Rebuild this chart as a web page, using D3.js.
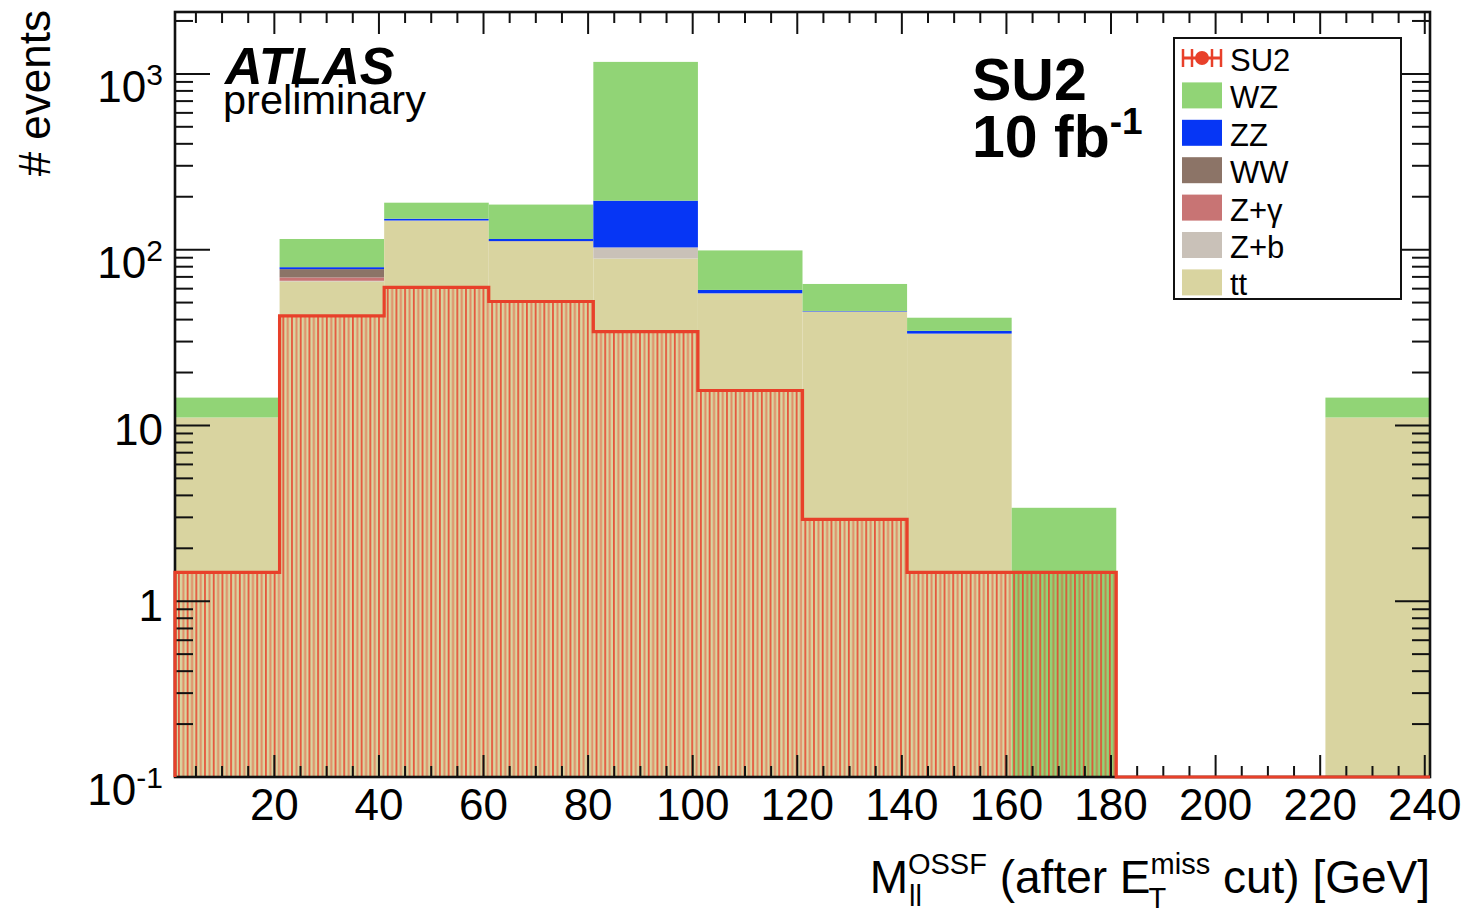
<!DOCTYPE html>
<html>
<head>
<meta charset="utf-8">
<script src="https://cdn.jsdelivr.net/npm/d3@7"></script>
<style>
  body { margin: 0; background: #fff; }
  text { font-family: "Liberation Sans", Arial, Helvetica, sans-serif; fill: #000; }
</style>
</head>
<body>
<svg id="chart" width="1465" height="919"></svg>
<script>
// ── Data ──────────────────────────────────────────────────────────────
const binLow   = [1, 21, 41, 61, 81, 101, 121, 141, 161, 181, 201, 221];
const binWidth = 20;

// stacked backgrounds, bottom to top
const ttbar  = [11.1, 66, 146, 111, 89, 56, 44.5, 33.3, 0, 0, 0, 11.1];
const zPlusB = [0, 0.5, 0.5, 0.5, 14, 0.5, 0, 0, 0, 0, 0, 0];
const zGamma = [0, 3, 0, 0, 0, 0, 0, 0, 0, 0, 0, 0];
const wwBkg  = [0, 8, 0, 0.5, 0, 0, 0, 0, 0, 0, 0, 0];
const zzBkg  = [0, 2, 3.5, 3, 87, 2.5, 0.3, 1.2, 0, 0, 0, 0];
const wzBkg  = [3.3, 35.5, 35, 65.5, 980, 40, 19, 6.5, 3.4, 0, 0, 3.3];

// signal (overlaid, hatched)
const su2 = [1.46, 42, 61, 50.7, 34.2, 15.8, 2.92, 1.46, 1.46, 0, 0, 0];

const xTicks = [20, 40, 60, 80, 100, 120, 140, 160, 180, 200, 220, 240];
const yTickLabels = [
    { v: 0.1,  base: '10', sup: '-1' },
    { v: 1,    base: '1',  sup: '' },
    { v: 10,   base: '10', sup: '' },
    { v: 100,  base: '10', sup: '2' },
    { v: 1000, base: '10', sup: '3' }
];

const layers = [
    { name: 'tt',  values: ttbar,  color: '#d9d4a0' },
    { name: 'Z+b', values: zPlusB, color: '#c9c1b8' },
    { name: 'Z+γ', values: zGamma, color: '#c87474' },
    { name: 'WW',  values: wwBkg,  color: '#8c7467' },
    { name: 'ZZ',  values: zzBkg,  color: '#0636f5' },
    { name: 'WZ',  values: wzBkg,  color: '#91d476' }
];
const SIG_COLOR = '#e8402a';

// ── Layout ────────────────────────────────────────────────────────────
const plot = { left: 175, right: 1430, top: 12, bottom: 777 };
const svg = d3.select('#chart');

const x = d3.scaleLinear().domain([1, 241]).range([plot.left, plot.right]);
const y = d3.scaleLog().domain([0.1, Math.pow(10, 3.352)]).range([plot.bottom, plot.top]);

const defs = svg.append('defs');
defs.append('clipPath').attr('id', 'plotClip')
    .append('rect')
    .attr('x', plot.left).attr('y', plot.top)
    .attr('width', plot.right - plot.left).attr('height', plot.bottom - plot.top);

// vertical hatch for the signal: dense orange-red lines, every other one stronger
const pat = defs.append('pattern')
    .attr('id', 'hatch')
    .attr('patternUnits', 'userSpaceOnUse')
    .attr('width', 8.7).attr('height', 20)
    .attr('x', plot.left + 3);
pat.append('rect').attr('x', 0).attr('y', 0).attr('width', 1.8).attr('height', 20)
    .attr('fill', SIG_COLOR).attr('fill-opacity', 0.85);
pat.append('rect').attr('x', 4.35).attr('y', 0).attr('width', 2).attr('height', 20)
    .attr('fill', SIG_COLOR).attr('fill-opacity', 0.5);

const gPlot = svg.append('g').attr('clip-path', 'url(#plotClip)');

// ── Stacked backgrounds ───────────────────────────────────────────────
const segments = [];
binLow.forEach((lo, i) => {
    let base = 0;
    layers.forEach(l => {
        const v = l.values[i];
        if (v > 0) segments.push({ lo, base, top: base + v, color: l.color });
        base += v;
    });
});

gPlot.selectAll('.stack')
    .data(segments)
    .enter()
    .append('rect')
    .attr('class', 'stack')
    .attr('x', d => x(d.lo))
    .attr('width', d => x(d.lo + binWidth) - x(d.lo))
    .attr('y', d => y(d.top))
    .attr('height', d => (d.base > 0 ? y(d.base) : plot.bottom) - y(d.top))
    .attr('fill', d => d.color);

// ── Signal: hatched step histogram ────────────────────────────────────
const sigY = v => v > 0 ? y(v) : plot.bottom;
const stepPts = [[x(binLow[0]), plot.bottom]];
binLow.forEach((lo, i) => {
    stepPts.push([x(lo), sigY(su2[i])]);
    stepPts.push([x(lo + binWidth), sigY(su2[i])]);
});
stepPts.push([x(binLow[binLow.length - 1] + binWidth), plot.bottom]);

gPlot.append('path')
    .attr('d', d3.line()(stepPts) + 'Z')
    .attr('fill', 'url(#hatch)');

// ── Axes: frame and ticks on all four sides ───────────────────────────
const gAxes = svg.append('g').attr('stroke', '#111').attr('stroke-width', 2);
const xMinor = d3.range(5, 241, 5).filter(v => v % 20 !== 0);
const yMajor = yTickLabels.map(d => d.v);
const yMinor = y.ticks().filter(v => !yMajor.some(m => Math.abs(m - v) < 1e-9));

const X_MAJ = 22, X_MIN = 11, Y_MAJ = 35, Y_MIN = 18;

xTicks.forEach(v => {
    gAxes.append('line').attr('x1', x(v)).attr('x2', x(v)).attr('y1', plot.bottom).attr('y2', plot.bottom - X_MAJ);
    gAxes.append('line').attr('x1', x(v)).attr('x2', x(v)).attr('y1', plot.top).attr('y2', plot.top + X_MAJ);
});
xMinor.forEach(v => {
    gAxes.append('line').attr('x1', x(v)).attr('x2', x(v)).attr('y1', plot.bottom).attr('y2', plot.bottom - X_MIN);
    gAxes.append('line').attr('x1', x(v)).attr('x2', x(v)).attr('y1', plot.top).attr('y2', plot.top + X_MIN);
});
yMajor.forEach(v => {
    gAxes.append('line').attr('x1', plot.left).attr('x2', plot.left + Y_MAJ).attr('y1', y(v)).attr('y2', y(v));
    gAxes.append('line').attr('x1', plot.right).attr('x2', plot.right - Y_MAJ).attr('y1', y(v)).attr('y2', y(v));
});
yMinor.forEach(v => {
    gAxes.append('line').attr('x1', plot.left).attr('x2', plot.left + Y_MIN).attr('y1', y(v)).attr('y2', y(v));
    gAxes.append('line').attr('x1', plot.right).attr('x2', plot.right - Y_MIN).attr('y1', y(v)).attr('y2', y(v));
});

svg.append('rect')
    .attr('x', plot.left).attr('y', plot.top)
    .attr('width', plot.right - plot.left).attr('height', plot.bottom - plot.top)
    .attr('fill', 'none').attr('stroke', '#111').attr('stroke-width', 2.6);

// signal outline on top of the frame (as in the original)
svg.append('path')
    .attr('d', d3.line()(stepPts))
    .attr('fill', 'none')
    .attr('stroke', SIG_COLOR)
    .attr('stroke-width', 3.2);

// ── Tick labels ───────────────────────────────────────────────────────
svg.selectAll('.xlab')
    .data(xTicks)
    .enter()
    .append('text')
    .attr('class', 'xlab')
    .attr('x', d => x(d))
    .attr('y', 820)
    .attr('text-anchor', 'middle')
    .style('font-size', '44px')
    .text(d => d);

yTickLabels.forEach(d => {
    const t = svg.append('text')
        .attr('x', 163)
        .attr('y', y(d.v) + (d.sup ? 28 : 20))
        .attr('text-anchor', 'end')
        .style('font-size', '44px');
    t.append('tspan').text(d.base);
    if (d.sup) {
        t.append('tspan').attr('dy', -17).style('font-size', '30px').text(d.sup);
    }
});

// ── Axis titles ───────────────────────────────────────────────────────
svg.append('text')
    .attr('transform', 'translate(50,10) rotate(-90)')
    .attr('text-anchor', 'end')
    .style('font-size', '44px')
    .text('# events');

// x title built piece by piece so sub/superscripts can stack
const gTitle = svg.append('g');
let cx = 0;
const piece = (str, size, dy, atX) => {
    const t = gTitle.append('text')
        .attr('x', atX === undefined ? cx : atX)
        .attr('y', dy)
        .style('font-size', size + 'px')
        .text(str);
    return t.node().getComputedTextLength();
};
const BIG = 46, SMALL = 29;
cx += piece('M', BIG, 0);
const wSub1 = piece('ll', SMALL, 13, cx + 1);
const wSup1 = piece('OSSF', SMALL, -19, cx);
cx += Math.max(wSub1 + 1, wSup1);
cx += piece('\u00a0(after E', BIG, 0);
const wSub2 = piece('T', SMALL, 15, cx - 2);
const wSup2 = piece('miss', SMALL, -19, cx);
cx += Math.max(wSub2, wSup2);
cx += piece('\u00a0cut) [GeV]', BIG, 0);
gTitle.attr('transform', `translate(${1430 - cx},893)`);

// ── Annotations ───────────────────────────────────────────────────────
svg.append('text')
    .attr('x', 225).attr('y', 84)
    .style('font-size', '52px')
    .style('font-weight', 'bold')
    .style('font-style', 'italic')
    .text('ATLAS');
svg.append('text')
    .attr('x', 223).attr('y', 114)
    .style('font-size', '41.5px')
    .text('preliminary');

svg.append('text')
    .attr('x', 972).attr('y', 100)
    .style('font-size', '59px')
    .style('font-weight', 'bold')
    .text('SU2');
const lumi = svg.append('text')
    .attr('x', 972).attr('y', 157)
    .style('font-size', '59px')
    .style('font-weight', 'bold');
lumi.append('tspan').text('10 fb');
lumi.append('tspan').attr('dy', -23).style('font-size', '37px').text('-1');

// ── Legend ────────────────────────────────────────────────────────────
const legendItems = [
    { name: 'SU2', color: SIG_COLOR, signal: true },
    ...layers.slice().reverse().map(l => ({ name: l.name, color: l.color }))
];
const legX = 1174, legY = 38, legW = 227, legH = 261;
svg.append('rect')
    .attr('x', legX).attr('y', legY).attr('width', legW).attr('height', legH)
    .attr('fill', '#fff').attr('stroke', '#111').attr('stroke-width', 2);

const ROW0 = 58, ROW_STEP = 37.4;
const gLeg = svg.selectAll('.leg')
    .data(legendItems)
    .enter()
    .append('g')
    .attr('class', 'leg')
    .attr('transform', (d, i) => `translate(0,${ROW0 + i * ROW_STEP})`);

gLeg.filter(d => !d.signal)
    .append('rect')
    .attr('x', 1182).attr('y', -13).attr('width', 40).attr('height', 26)
    .attr('fill', d => d.color);

const sigLeg = gLeg.filter(d => d.signal);
sigLeg.append('line').attr('x1', 1182).attr('x2', 1222).attr('y1', 0).attr('y2', 0)
    .attr('stroke', SIG_COLOR).attr('stroke-width', 3);
[1183, 1192, 1212, 1221].forEach(cxp => {
    sigLeg.append('line').attr('x1', cxp).attr('x2', cxp).attr('y1', -9).attr('y2', 9)
        .attr('stroke', SIG_COLOR).attr('stroke-width', 2.5);
});
sigLeg.append('circle').attr('cx', 1202).attr('cy', 0).attr('r', 7).attr('fill', SIG_COLOR);

gLeg.append('text')
    .attr('x', 1230).attr('y', 13)
    .style('font-size', '31px')
    .text(d => d.name);
</script>
</body>
</html>
